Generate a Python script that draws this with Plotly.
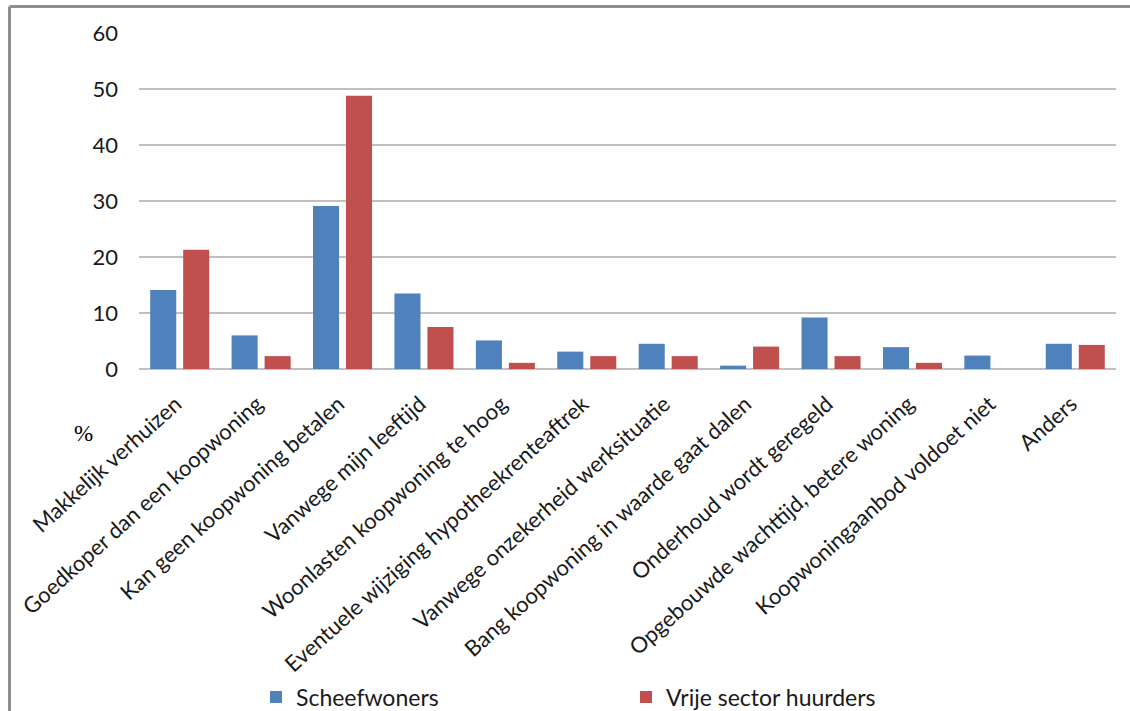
import plotly.graph_objects as go

# Reasons for renting (percentage of respondents, multiple answers possible)
categories = [
    "Makkelijk verhuizen",
    "Goedkoper dan een koopwoning",
    "Kan geen koopwoning betalen",
    "Vanwege mijn leeftijd",
    "Woonlasten koopwoning te hoog",
    "Eventuele wijziging hypotheekrenteaftrek",
    "Vanwege onzekerheid werksituatie",
    "Bang koopwoning in waarde gaat dalen",
    "Onderhoud wordt geregeld",
    "Opgebouwde wachttijd, betere woning",
    "Koopwoningaanbod voldoet niet",
    "Anders",
]
scheefwoners = [14.1, 6.0, 29.1, 13.5, 5.1, 3.1, 4.5, 0.6, 9.2, 3.9, 2.4, 4.5]
vrije_sector = [21.3, 2.3, 48.8, 7.5, 1.1, 2.3, 2.3, 4.0, 2.3, 1.1, 0.0, 4.3]
y_ticks = [0, 10, 20, 30, 40, 50, 60]

BLUE = "#4F81BD"
RED = "#C0504D"
GRID = "#C0C0C0"
FONT = "Lato"

W, H = 1130, 711
ML, MR, MT, MB = 139, 14, 33, 342
PW = W - ML - MR
PH = H - MT - MB


def px_x(px):
    return (px - ML) / PW


def px_y(py):
    return (H - MB - py) / PH


fig = go.Figure()
fig.add_trace(go.Bar(
    x=categories, y=scheefwoners, name="Scheefwoners",
    marker=dict(color=BLUE, line=dict(width=0)),
))
fig.add_trace(go.Bar(
    x=categories, y=vrije_sector, name="Vrije sector huurders",
    marker=dict(color=RED, line=dict(width=0)),
))

# outer frame (left and top edges)
frame = dict(color="#8E8E8E", width=3)
fig.add_shape(type="line", xref="paper", yref="paper",
              x0=px_x(9.5), x1=px_x(9.5), y0=px_y(6.5), y1=px_y(720), line=frame)
fig.add_shape(type="line", xref="paper", yref="paper",
              x0=px_x(9.5), x1=px_x(1140), y0=px_y(6.5), y1=px_y(6.5), line=frame)

fig.add_annotation(
    text="%", xref="paper", yref="paper", x=px_x(83), y=px_y(433),
    showarrow=False, xanchor="center", yanchor="middle",
    font=dict(family="Liberation Serif", size=23, color="#000000"),
)

fig.update_layout(
    width=W, height=H,
    margin=dict(l=ML, r=MR, t=MT, b=MB, autoexpand=False),
    paper_bgcolor="white", plot_bgcolor="white",
    barmode="group", bargap=0.19, bargroupgap=0.21,
    font=dict(family=FONT, size=22, color="#1a1a1a"),
    showlegend=True,
    legend=dict(
        orientation="h", x=px_x(256), y=px_y(697),
        xanchor="left", yanchor="middle",
        entrywidth=325, entrywidthmode="pixels",
        font=dict(family=FONT, size=23, color="#1a1a1a"),
        bgcolor="rgba(0,0,0,0)",
    ),
    xaxis=dict(
        tickangle=-42, showgrid=False, showline=False, ticks="",
        automargin=False, ticklabelstandoff=17, ticklabelshift=-4,
        tickfont=dict(family=FONT, size=22),
    ),
    yaxis=dict(
        range=[0, 60], tickvals=y_ticks, ticks="",
        showgrid=True, gridcolor=GRID, gridwidth=2,
        zeroline=True, zerolinecolor=GRID, zerolinewidth=2,
        showline=False, automargin=False, ticklabelstandoff=20,
        tickfont=dict(family=FONT, size=22),
    ),
)

fig.write_html("out.html")
